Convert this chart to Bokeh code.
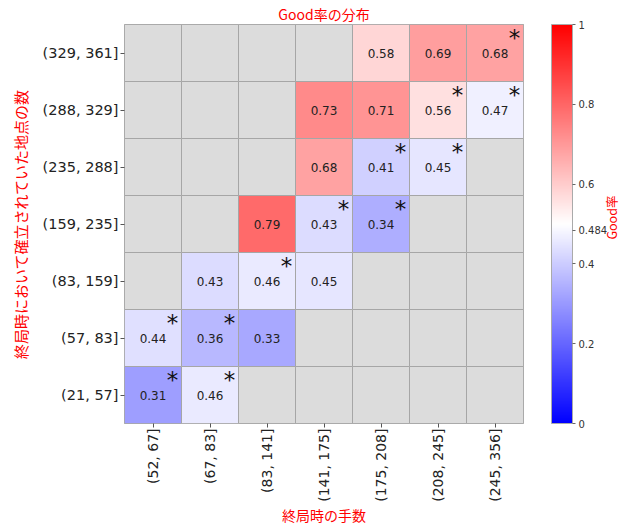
import itertools
import math
from bokeh.plotting import figure
from bokeh.models import (ColumnDataSource, LinearColorMapper, ColorBar, FixedTicker,
                          FactorRange, CategoricalAxis, Title)
from bokeh.transform import transform, dodge
from bokeh.embed import file_html
from bokeh.resources import INLINE
from bokeh.core.properties import value

# ---- data ----
x_cats = ["(52, 67]", "(67, 83]", "(83, 141]", "(141, 175]", "(175, 208]", "(208, 245]", "(245, 356]"]
y_cats = ["(21, 57]", "(57, 83]", "(83, 159]", "(159, 235]", "(235, 288]", "(288, 329]", "(329, 361]"]

cell_x = ["(175, 208]", "(208, 245]", "(245, 356]",
          "(141, 175]", "(175, 208]", "(208, 245]", "(245, 356]",
          "(141, 175]", "(175, 208]", "(208, 245]",
          "(83, 141]", "(141, 175]", "(175, 208]",
          "(67, 83]", "(83, 141]", "(141, 175]",
          "(52, 67]", "(67, 83]", "(83, 141]",
          "(52, 67]", "(67, 83]"]
cell_y = ["(329, 361]", "(329, 361]", "(329, 361]",
          "(288, 329]", "(288, 329]", "(288, 329]", "(288, 329]",
          "(235, 288]", "(235, 288]", "(235, 288]",
          "(159, 235]", "(159, 235]", "(159, 235]",
          "(83, 159]", "(83, 159]", "(83, 159]",
          "(57, 83]", "(57, 83]", "(57, 83]",
          "(21, 57]", "(21, 57]"]
good_rate = [0.58, 0.69, 0.68,
             0.73, 0.71, 0.56, 0.47,
             0.68, 0.41, 0.45,
             0.79, 0.43, 0.34,
             0.43, 0.46, 0.45,
             0.44, 0.36, 0.33,
             0.31, 0.46]
significant = [False, False, True,
               False, False, True, True,
               False, True, True,
               False, True, True,
               False, True, False,
               True, True, False,
               True, True]
cbar_ticks = [0, 0.2, 0.4, 0.484, 0.6, 0.8, 1]
cbar_title = "Good率"

# ---- palette (bwr) ----
def bwr(t):
    if t < 0.5:
        r = g = 2 * t
        b = 1.0
    else:
        r = 1.0
        g = b = 2 * (1 - t)
    return "#%02x%02x%02x" % (round(r * 255), round(g * 255), round(b * 255))

palette = [bwr(i / 255) for i in range(256)]
mapper = LinearColorMapper(palette=palette, low=0, high=1)

bg = list(itertools.product(x_cats, y_cats))
bg_src = ColumnDataSource(dict(x=[a for a, b in bg], y=[b for a, b in bg]))
src = ColumnDataSource(dict(x=cell_x, y=cell_y, rate=good_rate,
                            label=["%.2f" % v for v in good_rate]))
sig_src = ColumnDataSource(dict(x=[x for x, s in zip(cell_x, significant) if s],
                                y=[y for y, s in zip(cell_y, significant) if s],
                                star=["*" for s in significant if s]))

CJK = "Noto Sans CJK JP"

p = figure(x_range=FactorRange(*x_cats), y_range=FactorRange(*y_cats),
           frame_width=399, frame_height=399,
           min_border_left=124, min_border_right=105, min_border_top=23, min_border_bottom=60,
           output_backend="svg", toolbar_location=None, tools="")
p.title = Title(text="Good率の分布", align="center", text_color="red", text_font=CJK,
                text_font_size="14px", text_font_style="normal", standoff=2, offset=0)

p.rect(x="x", y="y", width=1, height=1, source=bg_src, fill_color="#dcdcdc",
       line_color="#a6a6a6", line_width=1)
p.rect(x="x", y="y", width=1, height=1, source=src,
       fill_color=transform("rate", mapper), line_color="#a6a6a6", line_width=1)
p.text(x="x", y="y", text="label", source=src, text_align="center", text_baseline="middle",
       text_font=value("DejaVu Sans"), text_font_size="12px", text_color="#222222")
p.text(x=dodge("x", 0.34, range=p.x_range), y=dodge("y", 0.26, range=p.y_range),
       text="star", source=sig_src, text_align="center", text_baseline="middle",
       text_font=value("DejaVu Sans"), text_font_size="23px", text_color="#111111")

p.grid.visible = False
p.outline_line_color = "#a0a0a0"
p.background_fill_color = "white"
for ax in (p.xaxis, p.yaxis):
    ax.axis_line_color = None
    ax.major_tick_line_color = "#555555"
    ax.major_tick_out = 4
    ax.major_tick_in = 0
    ax.minor_tick_line_color = None
    ax.major_label_text_font = "DejaVu Sans"
    ax.major_label_text_font_size = "14.5px"
    ax.major_label_text_color = "#222222"
    ax.major_label_standoff = 2
    ax.axis_label_text_font = CJK
    ax.axis_label_text_font_size = "14px"
    ax.axis_label_text_font_style = "normal"
    ax.axis_label_text_color = "red"
p.xaxis.major_label_orientation = math.pi / 2
p.xaxis.major_label_text_font_size = "14px"
p.xaxis.major_label_standoff = 1
p.xaxis.axis_label = "終局時の手数"
p.xaxis.axis_label_standoff = 0
p.yaxis.axis_label = "終局時において確立されていた地点の数"
p.yaxis.axis_label_text_font_size = "15px"
p.yaxis.axis_label_standoff = 9

p.extra_y_ranges = {"sp": FactorRange(" "),
                    "cbl": FactorRange(cbar_title, "  ", range_padding=5.4)}

spacer = CategoricalAxis(y_range_name="sp", axis_line_color=None, major_tick_out=22,
                         major_tick_in=0, major_label_standoff=0,
                         major_label_text_font_size="10px",
                         minor_tick_line_color=None, major_tick_line_color=None)
p.add_layout(spacer, "right")

cbar = ColorBar(color_mapper=mapper, ticker=FixedTicker(ticks=cbar_ticks),
                width=21, height=399, margin=0, padding=0, location=(0, 0),
                major_tick_in=0, major_tick_out=3, major_tick_line_color="#666666",
                major_label_text_font="DejaVu Sans", major_label_text_font_size="10px",
                major_label_text_color="#333333", label_standoff=3,
                bar_line_color="#aaaaaa", background_fill_color=None)
p.add_layout(cbar, "right")

cb_label = CategoricalAxis(y_range_name="cbl", axis_line_color=None, major_tick_out=0,
                           major_tick_in=0, major_label_standoff=1,
                           major_label_orientation=math.pi / 2,
                           major_label_text_font=CJK, major_label_text_font_size="12.5px",
                           major_label_text_color="red",
                           minor_tick_line_color=None, major_tick_line_color=None)
p.add_layout(cb_label, "right")

open("out.html", "w").write(file_html(p, INLINE))
